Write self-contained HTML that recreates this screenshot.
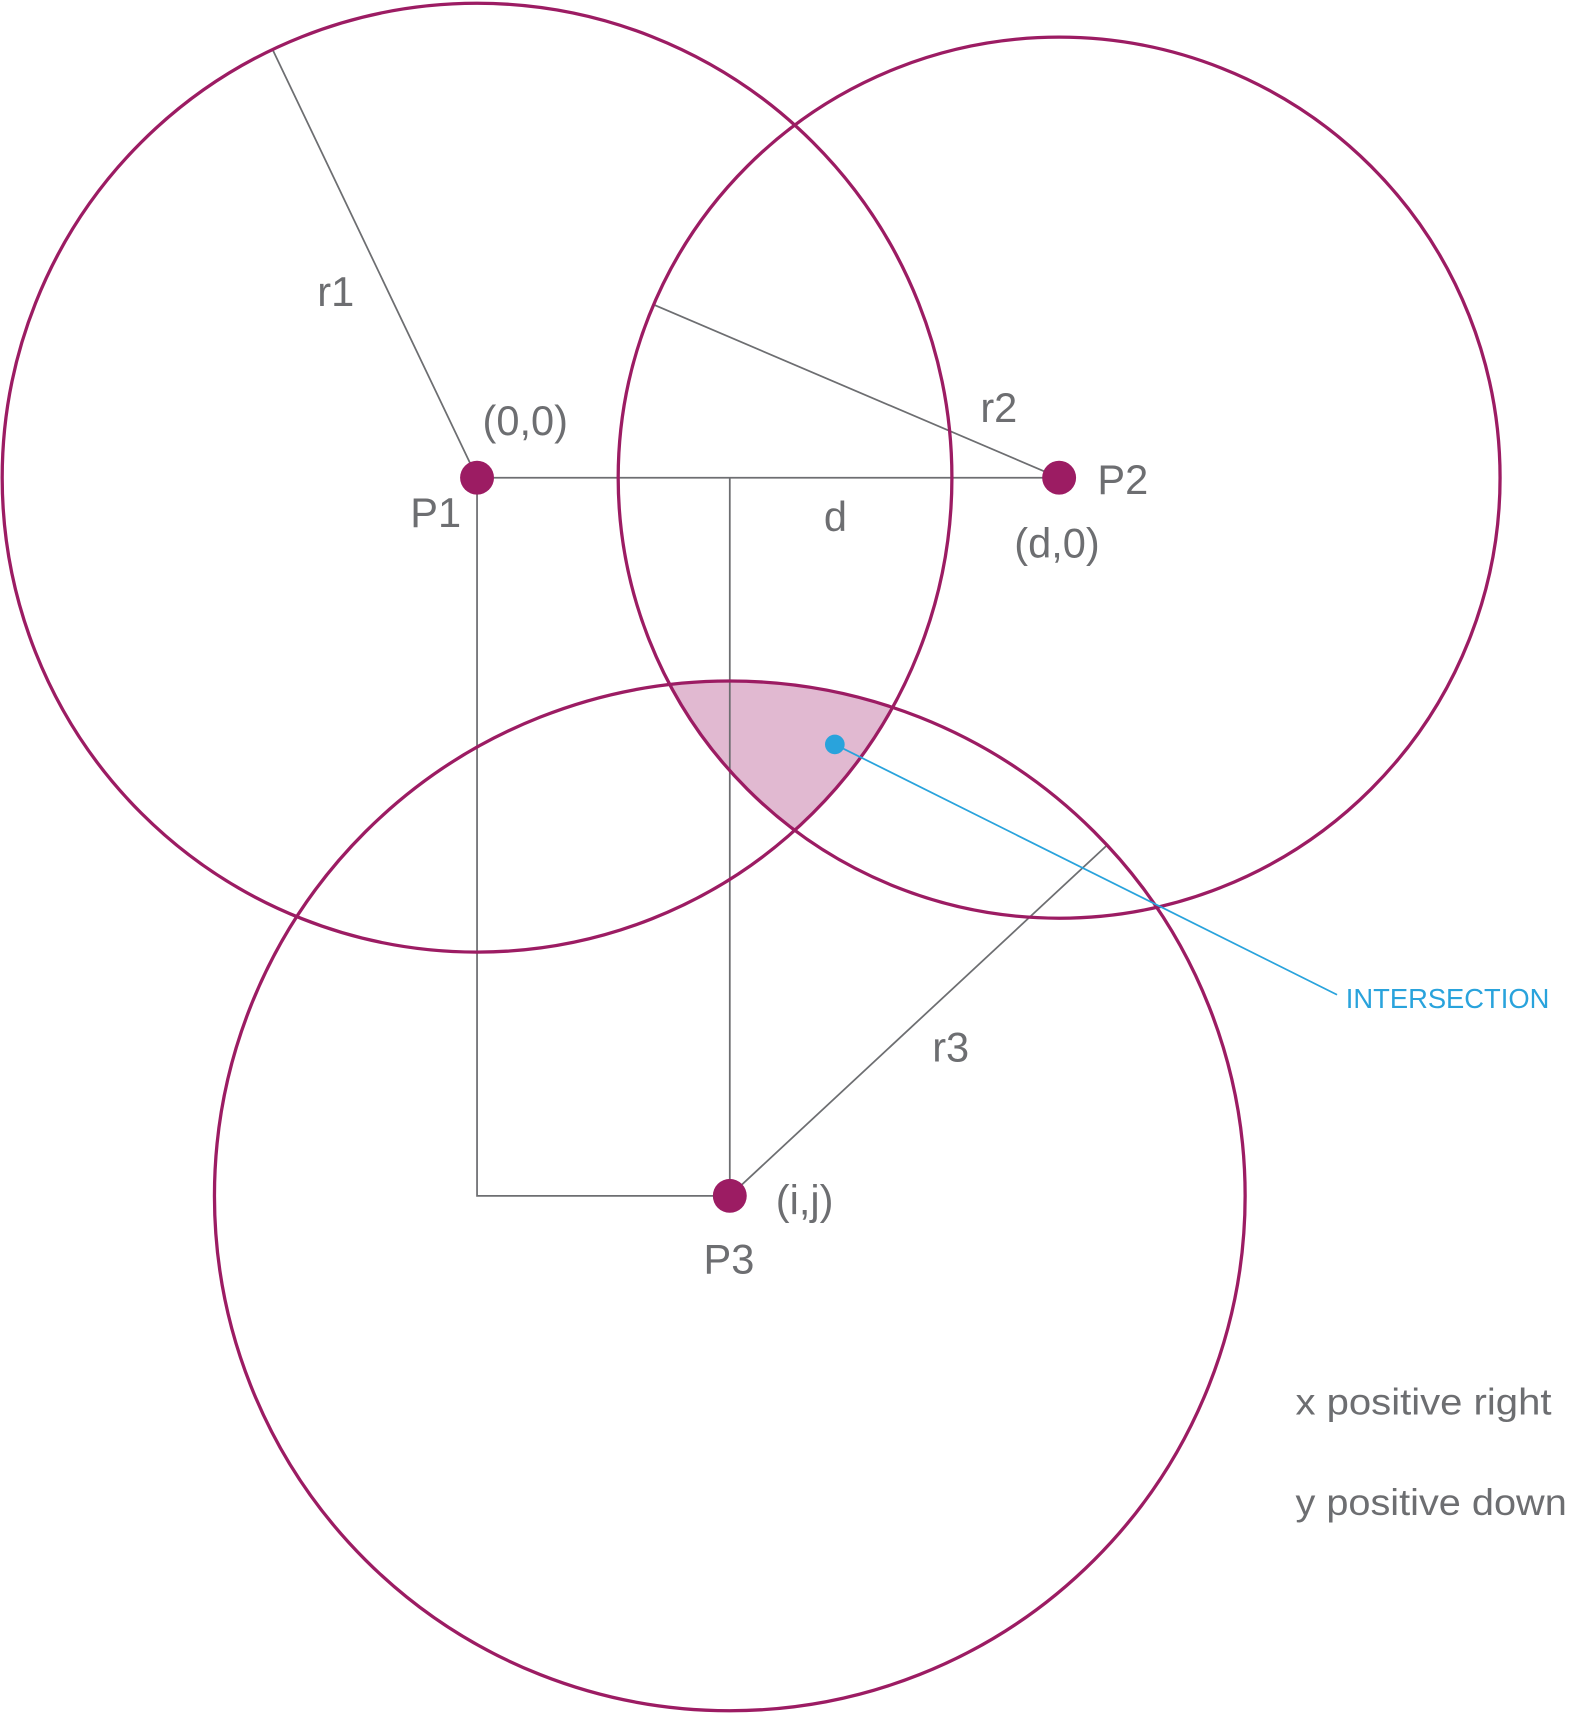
<!DOCTYPE html>
<html><head><meta charset="utf-8"><style>
html,body{margin:0;padding:0;background:#fff;}
svg{display:block;}
text{font-family:"Liberation Sans",sans-serif;fill:#6d6e71;}
</style></head><body>
<svg width="1569" height="1714" viewBox="0 0 1434 1568" preserveAspectRatio="none" xmlns="http://www.w3.org/2000/svg">
<defs>
<clipPath id="c1"><circle cx="436" cy="437" r="434"/></clipPath>
<clipPath id="c2"><circle cx="968" cy="437" r="403"/></clipPath>
</defs>
<g clip-path="url(#c1)"><g clip-path="url(#c2)"><circle cx="667" cy="1094" r="471" fill="#e1b9d1"/></g></g>
<g stroke="#6d6e71" stroke-width="1.6" fill="none">
<line x1="249" y1="45" x2="436" y2="437"/>
<line x1="598" y1="279" x2="968" y2="437"/>
<line x1="436" y1="437" x2="968" y2="437"/>
<polyline points="436,437 436,1094 667,1094"/>
<line x1="667" y1="437" x2="667" y2="1094"/>
<line x1="667" y1="1094" x2="1012" y2="773"/>
</g>
<g stroke="#9c1c63" stroke-width="3" fill="none">
<circle cx="436" cy="437" r="434"/>
<circle cx="968" cy="437" r="403"/>
<circle cx="667" cy="1094" r="471"/>
</g>
<g fill="#9c1c63">
<circle cx="436" cy="437" r="15.5"/>
<circle cx="968" cy="437" r="15.5"/>
<circle cx="667" cy="1094" r="15.5"/>
</g>
<line x1="763" y1="681" x2="1222" y2="910" stroke="#29a3dc" stroke-width="1.6"/>
<circle cx="763" cy="681" r="9" fill="#29a3dc"/>
<text x="1230" y="922" font-size="25" style="fill:#29a3dc">INTERSECTION</text>
<g font-size="38">
<text x="290" y="280">r1</text>
<text x="441" y="398">(0,0)</text>
<text x="375" y="482">P1</text>
<text x="896" y="386">r2</text>
<text x="1003" y="452">P2</text>
<text x="753" y="486">d</text>
<text x="927" y="510">(d,0)</text>
<text x="852" y="971">r3</text>
<text x="709" y="1111">(i,j)</text>
<text x="643" y="1165">P3</text>
</g>
<text x="1184" y="1294" font-size="34" textLength="234" lengthAdjust="spacingAndGlyphs">x positive right</text>
<text x="1184" y="1386" font-size="34" textLength="248" lengthAdjust="spacingAndGlyphs">y positive down</text>
</svg>
</body></html>
